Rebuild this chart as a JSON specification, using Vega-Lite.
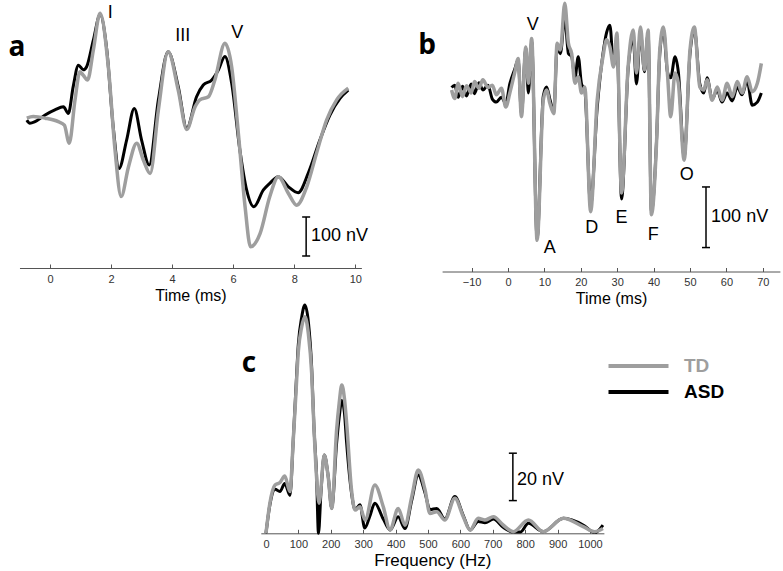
{
  "$schema": "https://vega.github.io/schema/vega-lite/v6.json",
  "width": 783,
  "height": 571,
  "autosize": {"type": "none"},
  "padding": 0,
  "background": "white",
  "config": {
    "view": {"stroke": null},
    "font": "Liberation Sans",
    "axis": {"grid": false, "domainColor": "#555555", "tickColor": "#555555", "labelColor": "#333333", "labelFontSize": 11, "labelFont": "Liberation Sans", "tickSize": -4, "labelPadding": 9, "titleFontSize": 16, "titleFontWeight": "normal", "titleColor": "#000000", "titleFont": "Liberation Sans", "titlePadding": 3, "domainWidth": 1, "tickWidth": 1},
    "legend": {"symbolType": "M-6,0H6", "symbolSize": 100, "symbolStrokeWidth": 4, "labelFontSize": 19, "labelFontWeight": "bold", "labelFont": "Liberation Sans", "labelOffset": 36, "rowPadding": 6, "padding": 0}
  },
  "datasets": {
    "a": [
      {"x":-0.76,"y":-8,"g":"ASD"},{"x":-0.66,"y":-16,"g":"ASD"},{"x":-0.49,"y":-12,"g":"ASD"},{"x":-0.16,"y":5,"g":"ASD"},{"x":0.16,"y":18,"g":"ASD"},{"x":0.44,"y":26,"g":"ASD"},{"x":0.6,"y":9,"g":"ASD"},{"x":0.76,"y":78,"g":"ASD"},{"x":0.93,"y":133,"g":"ASD"},{"x":1.09,"y":121,"g":"ASD"},{"x":1.2,"y":129,"g":"ASD"},{"x":1.42,"y":197,"g":"ASD"},{"x":1.64,"y":262,"g":"ASD"},{"x":1.86,"y":172,"g":"ASD"},{"x":2.07,"y":-25,"g":"ASD"},{"x":2.26,"y":-132,"g":"ASD"},{"x":2.51,"y":-59,"g":"ASD"},{"x":2.76,"y":22,"g":"ASD"},{"x":3.0,"y":-59,"g":"ASD"},{"x":3.25,"y":-123,"g":"ASD"},{"x":3.55,"y":44,"g":"ASD"},{"x":3.87,"y":167,"g":"ASD"},{"x":4.2,"y":78,"g":"ASD"},{"x":4.48,"y":-29,"g":"ASD"},{"x":4.8,"y":52,"g":"ASD"},{"x":5.02,"y":82,"g":"ASD"},{"x":5.3,"y":95,"g":"ASD"},{"x":5.51,"y":120,"g":"ASD"},{"x":5.73,"y":155,"g":"ASD"},{"x":5.95,"y":87,"g":"ASD"},{"x":6.22,"y":-85,"g":"ASD"},{"x":6.44,"y":-187,"g":"ASD"},{"x":6.68,"y":-230,"g":"ASD"},{"x":6.99,"y":-187,"g":"ASD"},{"x":7.2,"y":-170,"g":"ASD"},{"x":7.48,"y":-153,"g":"ASD"},{"x":7.81,"y":-179,"g":"ASD"},{"x":8.13,"y":-194,"g":"ASD"},{"x":8.46,"y":-144,"g":"ASD"},{"x":8.84,"y":-59,"g":"ASD"},{"x":9.17,"y":5,"g":"ASD"},{"x":9.5,"y":48,"g":"ASD"},{"x":9.77,"y":69,"g":"ASD"},
      {"x":-0.76,"y":-3,"g":"TD"},{"x":-0.55,"y":1,"g":"TD"},{"x":-0.16,"y":-3,"g":"TD"},{"x":0.27,"y":-12,"g":"TD"},{"x":0.47,"y":-21,"g":"TD"},{"x":0.63,"y":-67,"g":"TD"},{"x":0.82,"y":44,"g":"TD"},{"x":0.98,"y":116,"g":"TD"},{"x":1.09,"y":107,"g":"TD"},{"x":1.23,"y":95,"g":"TD"},{"x":1.42,"y":172,"g":"TD"},{"x":1.64,"y":266,"g":"TD"},{"x":1.91,"y":129,"g":"TD"},{"x":2.13,"y":-85,"g":"TD"},{"x":2.33,"y":-204,"g":"TD"},{"x":2.57,"y":-128,"g":"TD"},{"x":2.84,"y":-67,"g":"TD"},{"x":3.06,"y":-111,"g":"TD"},{"x":3.28,"y":-145,"g":"TD"},{"x":3.55,"y":18,"g":"TD"},{"x":3.87,"y":167,"g":"TD"},{"x":4.2,"y":69,"g":"TD"},{"x":4.48,"y":-32,"g":"TD"},{"x":4.75,"y":26,"g":"TD"},{"x":4.91,"y":44,"g":"TD"},{"x":5.19,"y":52,"g":"TD"},{"x":5.4,"y":95,"g":"TD"},{"x":5.73,"y":189,"g":"TD"},{"x":5.95,"y":129,"g":"TD"},{"x":6.17,"y":-42,"g":"TD"},{"x":6.39,"y":-230,"g":"TD"},{"x":6.57,"y":-333,"g":"TD"},{"x":6.88,"y":-299,"g":"TD"},{"x":7.2,"y":-204,"g":"TD"},{"x":7.48,"y":-153,"g":"TD"},{"x":7.81,"y":-196,"g":"TD"},{"x":8.08,"y":-226,"g":"TD"},{"x":8.41,"y":-179,"g":"TD"},{"x":8.73,"y":-93,"g":"TD"},{"x":9.06,"y":-8,"g":"TD"},{"x":9.39,"y":44,"g":"TD"},{"x":9.77,"y":74,"g":"TD"}
    ],
    "a_text": [{"x":1.97,"y":267,"label":"I"},{"x":4.35,"y":208,"label":"III"},{"x":6.13,"y":216,"label":"V"}],
    "a_letter": [{"x":-1.08,"y":177,"label":"a"}],
    "a_bar": [{"x":8.39,"y":-256.4},{"x":8.39,"y":-356.4}],
    "a_bar_text": [{"x":8.55,"y":-305,"label":"100 nV"}],
    "b": [
      {"x":-15.5,"y":4,"g":"ASD"},{"x":-14.6,"y":8,"g":"ASD"},{"x":-13.7,"y":-12,"g":"ASD"},{"x":-12.5,"y":6,"g":"ASD"},{"x":-11.4,"y":-10,"g":"ASD"},{"x":-10.1,"y":10,"g":"ASD"},{"x":-9.2,"y":-6,"g":"ASD"},{"x":-8.0,"y":12,"g":"ASD"},{"x":-6.9,"y":0,"g":"ASD"},{"x":-5.5,"y":8,"g":"ASD"},{"x":-4.3,"y":-15,"g":"ASD"},{"x":-3.2,"y":-20,"g":"ASD"},{"x":-1.8,"y":-12,"g":"ASD"},{"x":-0.6,"y":-22,"g":"ASD"},{"x":0.5,"y":10,"g":"ASD"},{"x":1.9,"y":35,"g":"ASD"},{"x":2.8,"y":50,"g":"ASD"},{"x":3.7,"y":-40,"g":"ASD"},{"x":4.9,"y":70,"g":"ASD"},{"x":5.6,"y":-5,"g":"ASD"},{"x":6.5,"y":80,"g":"ASD"},{"x":8.0,"y":-245,"g":"ASD"},{"x":9.7,"y":-10,"g":"ASD"},{"x":10.6,"y":5,"g":"ASD"},{"x":11.5,"y":-15,"g":"ASD"},{"x":12.6,"y":-35,"g":"ASD"},{"x":13.5,"y":70,"g":"ASD"},{"x":14.4,"y":60,"g":"ASD"},{"x":15.6,"y":120,"g":"ASD"},{"x":16.6,"y":60,"g":"ASD"},{"x":17.5,"y":55,"g":"ASD"},{"x":18.4,"y":20,"g":"ASD"},{"x":19.3,"y":55,"g":"ASD"},{"x":20.2,"y":10,"g":"ASD"},{"x":21.1,"y":0,"g":"ASD"},{"x":22.7,"y":-190,"g":"ASD"},{"x":24.5,"y":-30,"g":"ASD"},{"x":26.1,"y":60,"g":"ASD"},{"x":27.1,"y":95,"g":"ASD"},{"x":28.0,"y":107,"g":"ASD"},{"x":29.0,"y":40,"g":"ASD"},{"x":29.9,"y":85,"g":"ASD"},{"x":31.2,"y":-180,"g":"ASD"},{"x":33.0,"y":35,"g":"ASD"},{"x":34.4,"y":85,"g":"ASD"},{"x":35.3,"y":10,"g":"ASD"},{"x":36.4,"y":95,"g":"ASD"},{"x":37.5,"y":30,"g":"ASD"},{"x":38.5,"y":95,"g":"ASD"},{"x":39.4,"y":-200,"g":"ASD"},{"x":40.8,"y":-85,"g":"ASD"},{"x":41.7,"y":60,"g":"ASD"},{"x":42.7,"y":100,"g":"ASD"},{"x":43.8,"y":30,"g":"ASD"},{"x":44.7,"y":20,"g":"ASD"},{"x":45.9,"y":55,"g":"ASD"},{"x":46.8,"y":30,"g":"ASD"},{"x":48.4,"y":-110,"g":"ASD"},{"x":50.0,"y":60,"g":"ASD"},{"x":51.2,"y":100,"g":"ASD"},{"x":52.7,"y":10,"g":"ASD"},{"x":53.8,"y":-5,"g":"ASD"},{"x":54.7,"y":20,"g":"ASD"},{"x":56.1,"y":-15,"g":"ASD"},{"x":57.5,"y":0,"g":"ASD"},{"x":58.8,"y":-20,"g":"ASD"},{"x":60.2,"y":-5,"g":"ASD"},{"x":61.6,"y":-18,"g":"ASD"},{"x":63.0,"y":5,"g":"ASD"},{"x":64.3,"y":-8,"g":"ASD"},{"x":65.7,"y":15,"g":"ASD"},{"x":67.1,"y":-25,"g":"ASD"},{"x":68.5,"y":-20,"g":"ASD"},{"x":69.6,"y":-5,"g":"ASD"},
      {"x":-15.5,"y":0,"g":"TD"},{"x":-14.6,"y":-14,"g":"TD"},{"x":-13.7,"y":11,"g":"TD"},{"x":-12.5,"y":-11,"g":"TD"},{"x":-11.4,"y":7,"g":"TD"},{"x":-10.1,"y":-5,"g":"TD"},{"x":-9.2,"y":14,"g":"TD"},{"x":-8.0,"y":3,"g":"TD"},{"x":-6.9,"y":17,"g":"TD"},{"x":-5.5,"y":4,"g":"TD"},{"x":-4.3,"y":8,"g":"TD"},{"x":-3.2,"y":-8,"g":"TD"},{"x":-1.8,"y":3,"g":"TD"},{"x":-0.6,"y":-28,"g":"TD"},{"x":0.5,"y":-5,"g":"TD"},{"x":1.9,"y":30,"g":"TD"},{"x":2.8,"y":52,"g":"TD"},{"x":3.7,"y":-44,"g":"TD"},{"x":4.9,"y":71,"g":"TD"},{"x":5.6,"y":11,"g":"TD"},{"x":6.5,"y":85,"g":"TD"},{"x":8.0,"y":-248,"g":"TD"},{"x":9.7,"y":-17,"g":"TD"},{"x":10.6,"y":0,"g":"TD"},{"x":11.5,"y":-22,"g":"TD"},{"x":12.6,"y":-39,"g":"TD"},{"x":13.5,"y":77,"g":"TD"},{"x":14.4,"y":66,"g":"TD"},{"x":15.6,"y":143,"g":"TD"},{"x":16.6,"y":77,"g":"TD"},{"x":17.5,"y":60,"g":"TD"},{"x":18.4,"y":11,"g":"TD"},{"x":19.3,"y":22,"g":"TD"},{"x":20.2,"y":-5,"g":"TD"},{"x":21.1,"y":5,"g":"TD"},{"x":22.7,"y":-201,"g":"TD"},{"x":24.5,"y":-17,"g":"TD"},{"x":26.1,"y":55,"g":"TD"},{"x":27.1,"y":83,"g":"TD"},{"x":28.0,"y":71,"g":"TD"},{"x":29.0,"y":38,"g":"TD"},{"x":29.9,"y":94,"g":"TD"},{"x":31.2,"y":-170,"g":"TD"},{"x":33.0,"y":38,"g":"TD"},{"x":34.4,"y":99,"g":"TD"},{"x":35.3,"y":28,"g":"TD"},{"x":36.4,"y":104,"g":"TD"},{"x":37.5,"y":33,"g":"TD"},{"x":38.5,"y":99,"g":"TD"},{"x":39.4,"y":-206,"g":"TD"},{"x":40.8,"y":-88,"g":"TD"},{"x":41.7,"y":66,"g":"TD"},{"x":42.7,"y":104,"g":"TD"},{"x":43.8,"y":28,"g":"TD"},{"x":44.7,"y":-44,"g":"TD"},{"x":45.9,"y":28,"g":"TD"},{"x":46.8,"y":11,"g":"TD"},{"x":48.4,"y":-116,"g":"TD"},{"x":50.0,"y":66,"g":"TD"},{"x":51.2,"y":104,"g":"TD"},{"x":52.7,"y":5,"g":"TD"},{"x":53.8,"y":0,"g":"TD"},{"x":54.7,"y":17,"g":"TD"},{"x":56.1,"y":-17,"g":"TD"},{"x":57.5,"y":5,"g":"TD"},{"x":58.8,"y":-17,"g":"TD"},{"x":60.2,"y":11,"g":"TD"},{"x":61.6,"y":-11,"g":"TD"},{"x":63.0,"y":14,"g":"TD"},{"x":64.3,"y":-5,"g":"TD"},{"x":65.7,"y":22,"g":"TD"},{"x":67.1,"y":-3,"g":"TD"},{"x":68.5,"y":11,"g":"TD"},{"x":69.6,"y":44,"g":"TD"}
    ],
    "b_text": [{"x":6.8,"y":107,"label":"V"},{"x":11.5,"y":-261,"label":"A"},{"x":23.0,"y":-228,"label":"D"},{"x":31.2,"y":-212,"label":"E"},{"x":39.9,"y":-239,"label":"F"},{"x":49.1,"y":-140,"label":"O"}],
    "b_letter": [{"x":-22.25,"y":72.6,"label":"b"}],
    "b_bar": [{"x":54.4,"y":-160},{"x":54.4,"y":-260}],
    "b_bar_text": [{"x":55.8,"y":-210,"label":"100 nV"}],
    "c": [
      {"x":0,"y":0,"g":"ASD"},{"x":12,"y":12,"g":"ASD"},{"x":28,"y":18.6,"g":"ASD"},{"x":43,"y":17.6,"g":"ASD"},{"x":58,"y":21,"g":"ASD"},{"x":74,"y":16,"g":"ASD"},{"x":84,"y":39,"g":"ASD"},{"x":92,"y":60,"g":"ASD"},{"x":100,"y":80,"g":"ASD"},{"x":110,"y":91,"g":"ASD"},{"x":120,"y":96.3,"g":"ASD"},{"x":131,"y":89,"g":"ASD"},{"x":141,"y":70,"g":"ASD"},{"x":148,"y":45,"g":"ASD"},{"x":156,"y":25,"g":"ASD"},{"x":162,"y":0,"g":"ASD"},{"x":170,"y":18,"g":"ASD"},{"x":180,"y":33,"g":"ASD"},{"x":192,"y":24,"g":"ASD"},{"x":203,"y":10.5,"g":"ASD"},{"x":218,"y":38,"g":"ASD"},{"x":226,"y":49,"g":"ASD"},{"x":234,"y":56,"g":"ASD"},{"x":242,"y":51,"g":"ASD"},{"x":249,"y":38,"g":"ASD"},{"x":264,"y":17,"g":"ASD"},{"x":275,"y":10,"g":"ASD"},{"x":290,"y":12,"g":"ASD"},{"x":305,"y":2.2,"g":"ASD"},{"x":320,"y":7,"g":"ASD"},{"x":336,"y":12.7,"g":"ASD"},{"x":362,"y":6,"g":"ASD"},{"x":383,"y":1.4,"g":"ASD"},{"x":408,"y":7,"g":"ASD"},{"x":429,"y":2,"g":"ASD"},{"x":450,"y":14,"g":"ASD"},{"x":470,"y":24.6,"g":"ASD"},{"x":491,"y":17,"g":"ASD"},{"x":506,"y":10,"g":"ASD"},{"x":527,"y":10.5,"g":"ASD"},{"x":552,"y":6,"g":"ASD"},{"x":583,"y":15.5,"g":"ASD"},{"x":609,"y":7.5,"g":"ASD"},{"x":630,"y":1.4,"g":"ASD"},{"x":655,"y":5,"g":"ASD"},{"x":676,"y":4.5,"g":"ASD"},{"x":702,"y":6,"g":"ASD"},{"x":732,"y":2.5,"g":"ASD"},{"x":763,"y":0.5,"g":"ASD"},{"x":785,"y":0.5,"g":"ASD"},{"x":810,"y":4.2,"g":"ASD"},{"x":856,"y":0.7,"g":"ASD"},{"x":918,"y":6.3,"g":"ASD"},{"x":979,"y":3.5,"g":"ASD"},{"x":1015,"y":0.3,"g":"ASD"},{"x":1040,"y":3.5,"g":"ASD"},
      {"x":0,"y":0,"g":"TD"},{"x":12,"y":12.7,"g":"TD"},{"x":28,"y":20.4,"g":"TD"},{"x":43,"y":21.4,"g":"TD"},{"x":58,"y":24.2,"g":"TD"},{"x":74,"y":17.6,"g":"TD"},{"x":84,"y":39,"g":"TD"},{"x":92,"y":58,"g":"TD"},{"x":100,"y":77,"g":"TD"},{"x":110,"y":87,"g":"TD"},{"x":120,"y":91.4,"g":"TD"},{"x":131,"y":84,"g":"TD"},{"x":141,"y":67.6,"g":"TD"},{"x":148,"y":45,"g":"TD"},{"x":156,"y":23.9,"g":"TD"},{"x":164,"y":12.7,"g":"TD"},{"x":180,"y":33,"g":"TD"},{"x":192,"y":23.9,"g":"TD"},{"x":203,"y":10.5,"g":"TD"},{"x":218,"y":43.6,"g":"TD"},{"x":226,"y":55,"g":"TD"},{"x":234,"y":62.6,"g":"TD"},{"x":242,"y":57,"g":"TD"},{"x":249,"y":46.4,"g":"TD"},{"x":264,"y":18.3,"g":"TD"},{"x":275,"y":9.8,"g":"TD"},{"x":290,"y":11.2,"g":"TD"},{"x":306,"y":5.6,"g":"TD"},{"x":336,"y":20.4,"g":"TD"},{"x":362,"y":11.2,"g":"TD"},{"x":383,"y":1.4,"g":"TD"},{"x":408,"y":10.5,"g":"TD"},{"x":429,"y":3.5,"g":"TD"},{"x":450,"y":15.5,"g":"TD"},{"x":470,"y":26.7,"g":"TD"},{"x":491,"y":18.3,"g":"TD"},{"x":506,"y":8.4,"g":"TD"},{"x":527,"y":9.1,"g":"TD"},{"x":552,"y":5.6,"g":"TD"},{"x":583,"y":14.8,"g":"TD"},{"x":609,"y":7,"g":"TD"},{"x":630,"y":1.4,"g":"TD"},{"x":655,"y":6.3,"g":"TD"},{"x":676,"y":5.6,"g":"TD"},{"x":702,"y":7,"g":"TD"},{"x":732,"y":3.5,"g":"TD"},{"x":763,"y":0.7,"g":"TD"},{"x":810,"y":5.6,"g":"TD"},{"x":856,"y":0.7,"g":"TD"},{"x":918,"y":6.3,"g":"TD"},{"x":979,"y":2.8,"g":"TD"},{"x":1015,"y":0.7,"g":"TD"},{"x":1040,"y":2,"g":"TD"}
    ],
    "c_letter": [{"x":-52.5,"y":71.4,"label":"c"}],
    "c_bar": [{"x":762,"y":33.8},{"x":762,"y":13.8}],
    "c_bar_text": [{"x":775,"y":22.5,"label":"20 nV"}]
  },
  "layer": [
    {
      "encoding": {
        "x": {"field": "x", "type": "quantitative", "scale": {"domain": [-1, 10.2], "range": [19.47, 361.4], "nice": false, "zero": false}, "axis": {"values": [0, 2, 4, 6, 8, 10], "title": "Time (ms)", "orient": "bottom", "offset": -303}},
        "y": {"field": "y", "type": "quantitative", "scale": {"domain": [-380, 300], "range": [265.2, 0], "nice": false, "zero": false}, "axis": null}
      },
      "layer": [
        {"data": {"name": "a"}, "transform": [{"filter": "datum.g == 'ASD'"}], "mark": {"type": "line", "interpolate": "monotone", "strokeWidth": 3}, "encoding": {"color": {"field": "g", "type": "nominal", "scale": {"domain": ["TD", "ASD"], "range": ["#9e9e9e", "#000000"]}, "legend": {"orient": "none", "legendX": 629, "legendY": 356.5, "title": null, "labelColor": {"expr": "datum.label == 'TD' ? '#9e9e9e' : '#000000'"}}}}},
        {"data": {"name": "a"}, "transform": [{"filter": "datum.g == 'TD'"}], "mark": {"type": "line", "interpolate": "monotone", "strokeWidth": 3.5}, "encoding": {"color": {"field": "g", "type": "nominal", "scale": {"domain": ["TD", "ASD"], "range": ["#9e9e9e", "#000000"]}, "legend": {"orient": "none", "legendX": 629, "legendY": 356.5, "title": null, "labelColor": {"expr": "datum.label == 'TD' ? '#9e9e9e' : '#000000'"}}}}},
        {"data": {"name": "a_text"}, "mark": {"type": "text", "fontSize": 18, "align": "center", "baseline": "middle", "color": "#000000"}, "encoding": {"text": {"field": "label"}}},
        {"data": {"name": "a_letter"}, "mark": {"type": "text", "fontSize": 28, "fontWeight": "bold", "font": "Open Sans", "align": "center", "baseline": "middle", "color": "#000000"}, "encoding": {"text": {"field": "label"}}},
        {"data": {"name": "a_bar"}, "mark": {"type": "line", "color": "#000000", "strokeWidth": 1.5}, "encoding": {}},
        {"data": {"name": "a_bar"}, "mark": {"type": "point", "shape": "stroke", "size": 64, "color": "#000000", "strokeWidth": 1.5, "opacity": 1}, "encoding": {}},
        {"data": {"name": "a_bar_text"}, "mark": {"type": "text", "fontSize": 18, "align": "left", "baseline": "middle", "color": "#000000"}, "encoding": {"text": {"field": "label"}}}
      ]
    },
    {
      "encoding": {
        "x": {"field": "x", "type": "quantitative", "scale": {"domain": [-18.1, 74.7], "range": [442.1, 779.9], "nice": false, "zero": false}, "axis": {"values": [-10, 0, 10, 20, 30, 40, 50, 60, 70], "title": "Time (ms)", "orient": "bottom", "offset": -299.5}},
        "y": {"field": "y", "type": "quantitative", "scale": {"domain": [-300, 148.5], "range": [271.8, 0], "nice": false, "zero": false}, "axis": null}
      },
      "layer": [
        {"data": {"name": "b"}, "transform": [{"filter": "datum.g == 'ASD'"}], "mark": {"type": "line", "interpolate": "monotone", "strokeWidth": 3}, "encoding": {"color": {"field": "g", "type": "nominal", "scale": {"domain": ["TD", "ASD"], "range": ["#9e9e9e", "#000000"]}, "legend": {"orient": "none", "legendX": 629, "legendY": 356.5, "title": null, "labelColor": {"expr": "datum.label == 'TD' ? '#9e9e9e' : '#000000'"}}}}},
        {"data": {"name": "b"}, "transform": [{"filter": "datum.g == 'TD'"}], "mark": {"type": "line", "interpolate": "monotone", "strokeWidth": 3.5}, "encoding": {"color": {"field": "g", "type": "nominal", "scale": {"domain": ["TD", "ASD"], "range": ["#9e9e9e", "#000000"]}, "legend": {"orient": "none", "legendX": 629, "legendY": 356.5, "title": null, "labelColor": {"expr": "datum.label == 'TD' ? '#9e9e9e' : '#000000'"}}}}},
        {"data": {"name": "b_text"}, "mark": {"type": "text", "fontSize": 18, "align": "center", "baseline": "middle", "color": "#000000"}, "encoding": {"text": {"field": "label"}}},
        {"data": {"name": "b_letter"}, "mark": {"type": "text", "fontSize": 28, "fontWeight": "bold", "font": "Open Sans", "align": "center", "baseline": "middle", "color": "#000000"}, "encoding": {"text": {"field": "label"}}},
        {"data": {"name": "b_bar"}, "mark": {"type": "line", "color": "#000000", "strokeWidth": 1.5}, "encoding": {}},
        {"data": {"name": "b_bar"}, "mark": {"type": "point", "shape": "stroke", "size": 64, "color": "#000000", "strokeWidth": 1.5, "opacity": 1}, "encoding": {}},
        {"data": {"name": "b_bar_text"}, "mark": {"type": "text", "fontSize": 18, "align": "left", "baseline": "middle", "color": "#000000"}, "encoding": {"text": {"field": "label"}}}
      ]
    },
    {
      "encoding": {
        "x": {"field": "x", "type": "quantitative", "scale": {"domain": [-16, 1043], "range": [260.8, 603.9], "nice": false, "zero": false}, "axis": {"values": [0, 100, 200, 300, 400, 500, 600, 700, 800, 900, 1000], "format": "d", "title": "Frequency (Hz)", "titleFontSize": 17, "orient": "bottom", "offset": -37.7}},
        "y": {"field": "y", "type": "quantitative", "scale": {"domain": [0, 100], "range": [533.3, 296.3], "nice": false, "zero": false}, "axis": null}
      },
      "layer": [
        {"data": {"name": "c"}, "transform": [{"filter": "datum.g == 'ASD'"}], "mark": {"type": "line", "interpolate": "monotone", "strokeWidth": 3}, "encoding": {"color": {"field": "g", "type": "nominal", "scale": {"domain": ["TD", "ASD"], "range": ["#9e9e9e", "#000000"]}, "legend": {"orient": "none", "legendX": 629, "legendY": 356.5, "title": null, "labelColor": {"expr": "datum.label == 'TD' ? '#9e9e9e' : '#000000'"}}}}},
        {"data": {"name": "c"}, "transform": [{"filter": "datum.g == 'TD'"}], "mark": {"type": "line", "interpolate": "monotone", "strokeWidth": 3.5}, "encoding": {"color": {"field": "g", "type": "nominal", "scale": {"domain": ["TD", "ASD"], "range": ["#9e9e9e", "#000000"]}, "legend": {"orient": "none", "legendX": 629, "legendY": 356.5, "title": null, "labelColor": {"expr": "datum.label == 'TD' ? '#9e9e9e' : '#000000'"}}}}},
        {"data": {"name": "c_letter"}, "mark": {"type": "text", "fontSize": 28, "fontWeight": "bold", "font": "Open Sans", "align": "center", "baseline": "middle", "color": "#000000"}, "encoding": {"text": {"field": "label"}}},
        {"data": {"name": "c_bar"}, "mark": {"type": "line", "color": "#000000", "strokeWidth": 1.5}, "encoding": {}},
        {"data": {"name": "c_bar"}, "mark": {"type": "point", "shape": "stroke", "size": 64, "color": "#000000", "strokeWidth": 1.5, "opacity": 1}, "encoding": {}},
        {"data": {"name": "c_bar_text"}, "mark": {"type": "text", "fontSize": 18, "align": "left", "baseline": "middle", "color": "#000000"}, "encoding": {"text": {"field": "label"}}}
      ]
    }
  ],
  "resolve": {"scale": {"x": "independent", "y": "independent"}, "axis": {"x": "independent", "y": "independent"}}
}
